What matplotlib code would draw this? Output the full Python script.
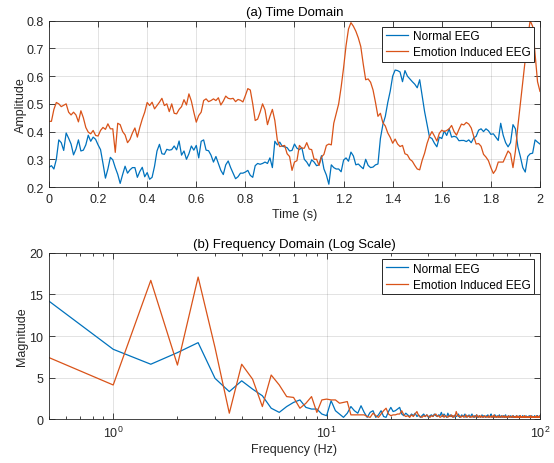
import numpy as np
import matplotlib
matplotlib.use("Agg")
import matplotlib.pyplot as plt
from matplotlib.ticker import LogLocator, NullFormatter

plt.rcParams['font.family'] = ['Liberation Sans', 'DejaVu Sans']
plt.rcParams['mathtext.fontset'] = 'custom'
plt.rcParams['mathtext.rm'] = 'Liberation Sans'
plt.rcParams['mathtext.it'] = 'Liberation Sans'

# ---------------- data ----------------
duration_s = 2.0
normal_eeg = [
    .271, .277, .265, .30, .37, .36, .332, .395, .376, .355,
    .316, .337, .37, .33, .333, .352, .387, .365, .38, .372,
    .352, .335, .285, .232, .265, .307, .298, .27, .246, .213,
    .245, .275, .25, .262, .27, .27, .235, .256, .271, .237,
    .252, .228, .235, .275, .33, .354, .32, .318, .336, .333,
    .335, .348, .334, .366, .315, .33, .30, .32, .348, .333,
    .35, .305, .365, .37, .333, .331, .315, .29, .31, .285,
    .26, .245, .28, .294, .27, .25, .23, .237, .25, .25,
    .254, .26, .242, .235, .277, .285, .282, .285, .29, .285,
    .305, .27, .365, .352, .362, .347, .345, .342, .33, .332,
    .355, .34, .335, .342, .30, .29, .275, .298, .29, .277,
    .28, .313, .265, .243, .21, .28, .27, .265, .265, .255,
    .297, .305, .293, .326, .312, .28, .283, .274, .266, .30,
    .278, .27, .272, .28, .283, .375, .425, .455, .505, .546,
    .60, .622, .62, .615, .58, .62, .60, .59, .58, .571,
    .558, .587, .53, .472, .425, .38, .375, .358, .345, .38,
    .375, .402, .386, .41, .38, .383, .38, .367, .368, .368,
    .364, .37, .36, .377, .383, .405, .41, .40, .41, .403,
    .39, .392, .38, .368, .43, .387, .36, .345, .36, .425,
    .41, .345, .31, .27, .254, .31, .32, .322, .37, .362,
    .355,
]
emotion_eeg = [
    .437, .437, .48, .505, .50, .49, .495, .50, .47, .46,
    .47, .46, .435, .475, .45, .415, .398, .392, .404, .386,
    .384, .404, .415, .408, .428, .41, .41, .325, .43, .425,
    .40, .388, .36, .372, .395, .413, .38, .415, .445, .47,
    .505, .494, .506, .482, .494, .506, .52, .494, .50, .472,
    .50, .466, .464, .48, .49, .515, .496, .536, .51, .47,
    .434, .458, .47, .512, .518, .508, .512, .518, .512, .522,
    .496, .51, .528, .52, .518, .52, .508, .516, .513, .507,
    .53, .555, .55, .50, .44, .445, .47, .50, .478, .425,
    .455, .48, .44, .37, .346, .348, .35, .32, .31, .26,
    .29, .295, .35, .34, .34, .36, .337, .335, .30, .30,
    .278, .308, .318, .35, .355, .352, .43, .465, .50, .56,
    .63, .71, .77, .793, .78, .762, .738, .707, .644, .587,
    .59, .578, .55, .505, .455, .466, .432, .42, .395, .379,
    .358, .373, .355, .346, .35, .32, .316, .30, .293, .278,
    .265, .262, .296, .322, .357, .383, .40, .384, .366, .394,
    .405, .40, .404, .41, .422, .40, .387, .408, .427, .424,
    .433, .427, .413, .383, .355, .357, .347, .318, .308, .295,
    .27, .249, .262, .29, .29, .29, .31, .33, .32, .27,
    .33, .42, .50, .58, .66, .74, .80, .78, .68, .58,
    .545,
]

freq_step_hz = 0.5
normal_mag = [
    14.2, 8.4, 6.6, 8.0, 9.2, 4.9, 3.3, 4.6, 3.6, 2.8,
    1.3, 0.8, 1.5, 2.0, 2.3, 1.4, 1.2, 1.2, 0.6, 0.4,
    2.2, 1.0, 0.6, 0.2, 0.7, 1.5, 1.0, 0.7, 1.6, 0.8,
    0.2, 0.8, 1.0, 0.2, 0.5, 1.0, 0.3, 0.2, 0.9, 1.4,
    0.9, 1.0, 1.2, 1.4, 0.6,
    0.4, 0.7, 0.5, 0.3, 0.6, 0.4, 0.7, 0.3, 0.5, 0.2,
    0.4, 0.6, 0.3, 0.5, 0.2, 0.4, 0.5, 0.3, 0.6, 0.4,
    0.3, 0.5, 0.4, 0.8, 0.3, 0.6, 0.4, 0.2, 0.7, 0.3,
    0.5, 0.3, 0.4, 0.2, 0.5, 0.3, 0.4, 0.6, 0.2, 0.3,
    0.5, 0.3, 0.4, 0.6, 0.2, 0.4, 0.3, 0.5, 0.2, 0.4,
    0.6, 0.3, 0.2, 0.4, 0.3, 0.5, 0.2, 0.3, 0.4, 0.2,
    0.3, 0.5, 0.2, 0.4, 0.3, 0.2, 0.4, 0.3, 0.5, 0.2,
    0.3, 0.4, 0.6, 0.2, 0.3, 0.4, 0.2, 0.5, 0.3, 0.2,
    0.4, 0.3, 0.2, 0.5, 0.3, 0.2, 0.4, 0.2, 0.3, 0.4,
    0.2, 0.3, 0.5, 0.2, 0.3, 0.2, 0.4, 0.3, 0.2, 0.3,
    0.4, 0.2, 0.3, 0.2, 0.4, 0.3, 0.2, 0.3, 0.2, 0.4,
    0.3, 0.2, 0.3, 0.2, 0.4, 0.2, 0.3, 0.2, 0.3, 0.2,
    0.4, 0.2, 0.3, 0.2, 0.2, 0.3, 0.4, 0.2, 0.3, 0.2,
    0.3, 0.2, 0.4, 0.2, 0.3, 0.2, 0.3, 0.4, 0.2, 0.3,
    0.2, 0.3, 0.2, 0.4, 0.2, 0.3, 0.2, 0.3, 0.2, 0.4,
    0.2, 0.3, 0.2, 0.3, 0.4,
]
emotion_mag = [
    7.4, 4.1, 16.7, 6.5, 17.1, 8.6, 0.7, 6.6, 4.8, 1.5,
    5.3, 4.1, 2.7, 2.6, 1.3, 1.9, 2.7, 0.8, 2.3, 2.4,
    2.3, 2.3, 1.9, 2.0, 2.1, 0.5, 0.5, 0.5, 0.5, 0.5,
    0.3, 0.2, 0.7, 0.4, 0.2, 0.6, 1.0, 1.3, 0.6, 0.4,
    0.5, 0.5, 0.6, 0.6, 1.0,
    0.5, 0.3, 0.4, 0.2, 0.5, 0.3, 0.6, 0.9, 0.4, 0.3,
    0.2, 0.4, 0.3, 0.5, 0.3, 0.2, 0.4, 0.3, 0.5, 0.6,
    0.3, 0.4, 0.2, 0.3, 0.5, 0.2, 0.4, 0.3, 0.2, 0.4,
    0.3, 0.5, 0.2, 0.4, 0.3, 0.9, 0.5, 0.3, 0.4, 0.2,
    0.3, 0.4, 0.2, 0.3, 0.5, 0.2, 0.3, 0.4, 0.2, 0.3,
    0.2, 0.4, 0.3, 0.2, 0.3, 0.5, 0.3, 0.2, 0.4, 0.2,
    0.4, 0.2, 0.3, 0.2, 0.4, 0.3, 0.2, 0.3, 0.2, 0.4,
    0.2, 0.3, 0.2, 0.4, 0.2, 0.3, 0.5, 0.2, 0.3, 0.2,
    0.3, 0.2, 0.4, 0.2, 0.3, 0.2, 0.3, 0.4, 0.2, 0.3,
    0.2, 0.4, 0.2, 0.3, 0.2, 0.3, 0.2, 0.4, 0.3, 0.2,
    0.3, 0.2, 0.3, 0.4, 0.2, 0.3, 0.2, 0.2, 0.3, 0.2,
    0.4, 0.2, 0.3, 0.2, 0.3, 0.2, 0.4, 0.2, 0.2, 0.3,
    0.2, 0.3, 0.2, 0.4, 0.2, 0.3, 0.2, 0.3, 0.2, 0.2,
    0.3, 0.2, 0.2, 0.3, 0.2, 0.4, 0.2, 0.3, 0.2, 0.2,
    0.3, 0.2, 0.3, 0.2, 0.2, 0.3, 0.2, 0.4, 0.2, 0.3,
    0.2, 0.3, 0.2, 0.2, 0.4,
]
series_names = ["Normal EEG", "Emotion Induced EEG"]
time_ticks = [0, 0.2, 0.4, 0.6, 0.8, 1, 1.2, 1.4, 1.6, 1.8, 2]
time_tick_labels = ["0", "0.2", "0.4", "0.6", "0.8", "1", "1.2", "1.4", "1.6", "1.8", "2"]
amp_ticks = [0.2, 0.3, 0.4, 0.5, 0.6, 0.7, 0.8]
mag_ticks = [0, 5, 10, 15, 20]

t = np.linspace(0, duration_s, len(normal_eeg))
f = freq_step_hz * np.arange(1, len(normal_mag) + 1)

# ---------------- style ----------------
BLUE = '#0072BD'
ORANGE = '#D95319'
AX = '#262626'
FS = 9.0
FS_TITLE = 9.5
FS_LEG = 8.6

fig = plt.figure(figsize=(5.54, 4.64), dpi=100)
ax1 = fig.add_axes([0.0884, 0.5948, 0.8863, 0.3584])
ax2 = fig.add_axes([0.0884, 0.0948, 0.8863, 0.3578])


def style(ax):
    for s in ax.spines.values():
        s.set_color(AX)
        s.set_linewidth(0.6)
    ax.tick_params(which='both', direction='in', top=True, right=True,
                   colors=AX, labelsize=FS, width=0.6)
    ax.tick_params(which='major', length=4, pad=4)
    ax.tick_params(which='minor', length=2.2)
    ax.grid(True, which='major', color=(0.15, 0.15, 0.15), alpha=0.15, linewidth=0.6)
    ax.set_axisbelow(True)


def legend(ax):
    leg = ax.legend(loc='upper right', fontsize=FS_LEG, frameon=True, fancybox=False,
                    edgecolor=AX, borderpad=0.3, labelspacing=0.35, handlelength=1.9,
                    handletextpad=0.35, borderaxespad=0.5)
    leg.get_frame().set_linewidth(0.7)
    leg.get_frame().set_alpha(1)


ax1.plot(t, normal_eeg, color=BLUE, lw=0.9, label=series_names[0])
ax1.plot(t, emotion_eeg, color=ORANGE, lw=0.9, label=series_names[1])
ax1.set_xlim(0, 2)
ax1.set_ylim(0.2, 0.8)
ax1.set_xticks(time_ticks)
ax1.set_xticklabels(time_tick_labels)
ax1.set_yticks(amp_ticks)
ax1.set_yticklabels([f"{v:g}" for v in amp_ticks])
style(ax1)
ax1.set_title("(a) Time Domain", fontsize=FS_TITLE, color='black', pad=4)
ax1.set_xlabel("Time (s)", fontsize=FS, color=AX, labelpad=2.5)
ax1.set_ylabel("Amplitude", fontsize=FS, color=AX, labelpad=-0.5)
legend(ax1)

ax2.plot(f, normal_mag, color=BLUE, lw=0.9, label=series_names[0])
ax2.plot(f, emotion_mag, color=ORANGE, lw=0.9, label=series_names[1])
ax2.set_xscale('log')
ax2.set_xlim(0.5, 100)
ax2.set_ylim(0, 20)
ax2.set_yticks(mag_ticks)
ax2.xaxis.set_minor_locator(LogLocator(base=10, subs=np.arange(2, 10)))
ax2.xaxis.set_minor_formatter(NullFormatter())
style(ax2)
ax2.set_title("(b) Frequency Domain (Log Scale)", fontsize=FS_TITLE, color='black', pad=4)
ax2.set_xlabel("Frequency (Hz)", fontsize=FS, color=AX, labelpad=2.5)
ax2.set_ylabel("Magnitude", fontsize=FS, color=AX, labelpad=1)
legend(ax2)

fig.savefig("out.png", dpi=100, facecolor='white')
